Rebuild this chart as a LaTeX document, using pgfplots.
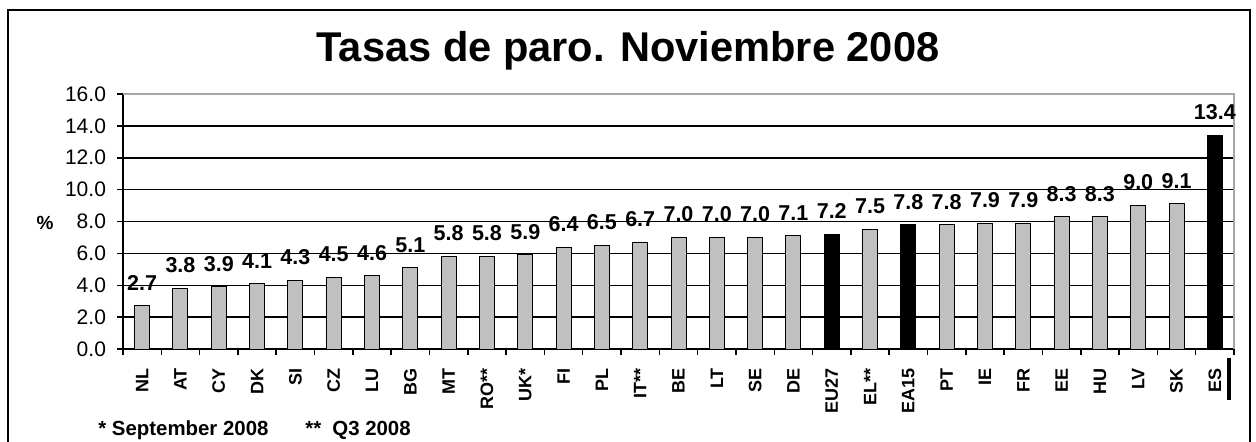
\documentclass[border=0pt]{standalone}
\usepackage{pgfplots}
\pgfplotsset{compat=1.18}
\usepackage{pgfplotstable}
\usepackage{fontspec}
\setmainfont{Liberation Sans}
\definecolor{bargray}{HTML}{C0C0C0}

\pgfplotstableread{
x y
0 2.7
1 3.8
2 3.9
3 4.1
4 4.3
5 4.5
6 4.6
7 5.1
8 5.8
9 5.8
10 5.9
11 6.4
12 6.5
13 6.7
14 7.0
15 7.0
16 7.0
17 7.1
19 7.5
21 7.8
22 7.9
23 7.9
24 8.3
25 8.3
26 9.0
27 9.1
}\graydata

\pgfplotstableread{
x y
18 7.2
20 7.8
28 13.4
}\blackdata

\begin{document}
\begin{tikzpicture}[x=1pt,y=1pt]
\useasboundingbox (0,0) rectangle (628,220.5);
\draw[line width=1pt] (4,-5) -- (4,215.5) -- (625,215.5) -- (625,-5);
\node[font=\bfseries\fontsize{20.8}{24}\selectfont] at (314,195) {Tasas de paro. Noviembre 2008};
\node[font=\bfseries\fontsize{9.5}{11}\selectfont] at (22.5,109) {\%};
\node[anchor=base west, inner sep=0pt, font=\bfseries\fontsize{10.2}{12}\selectfont] at (49,2.6) {* September 2008};
\node[anchor=base west, inner sep=0pt, font=\bfseries\fontsize{10.2}{12}\selectfont] at (152.5,2.6) {**};
\node[anchor=base west, inner sep=0pt, font=\bfseries\fontsize{10.2}{12}\selectfont] at (166,2.6) {Q3 2008};
\draw[line width=2pt] (614.5,41.5) -- (614.5,20.5);
\begin{axis}[
  at={(61.5pt,46pt)}, anchor=south west,
  scale only axis, width=555.5pt, height=127.5pt,
  clip=false,
  xmin=-0.5, xmax=28.5, ymin=0, ymax=16,
  axis lines*=left,
  axis line style={black, line width=1pt},
  tick align=outside,
  ytick={0,2,...,16},
  ymajorgrids,
  grid style={black, line width=0.75pt},
  major tick length=3pt,
  tick style={black, line width=0.75pt},
  /pgf/number format/assume math mode=true,
  yticklabel={\pgfmathprintnumber[fixed,fixed zerofill,precision=1]{\tick}},
  yticklabel style={font=\fontsize{10.5}{12}\selectfont, xshift=-2pt},
  xtick={-0.5,0.5,...,28.5},
  xticklabels={},
  extra x ticks={0,1,...,28},
  extra x tick labels={NL,AT,CY,DK,SI,CZ,LU,BG,MT,RO**,UK*,FI,PL,IT**,BE,LT,SE,DE,EU27,EL**,EA15,PT,IE,FR,EE,HU,LV,SK,ES},
  extra x tick style={major tick length=0pt, grid=none,
    xticklabel style={rotate=90, anchor=east, font=\bfseries\fontsize{9}{10}\selectfont, xshift=-6pt}},
  ybar, bar width=7.5pt, bar shift=0pt,
  nodes near coords={\pgfmathprintnumber[fixed,fixed zerofill,precision=1]{\pgfplotspointmeta}},
  nodes near coords style={font=\bfseries\fontsize{10.75}{12}\selectfont, anchor=center, yshift=11.5pt},
]
\addplot[fill=bargray, draw=black, line width=0.5pt] table[x=x,y=y] {\graydata};
\addplot[fill=black, draw=black, line width=0.5pt] table[x=x,y=y] {\blackdata};
\draw[gray!70, line width=0.8pt] (rel axis cs:0,1) -- (rel axis cs:1,1) -- (rel axis cs:1,0);
\end{axis}
\end{tikzpicture}
\end{document}
